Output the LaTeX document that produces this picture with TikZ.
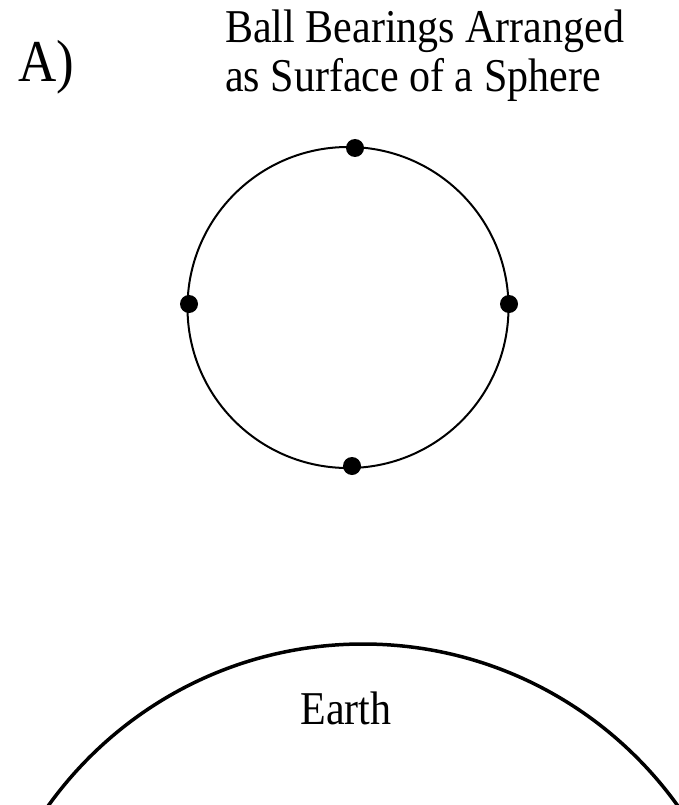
\documentclass[tikz,border=0pt]{standalone}
\usepackage{fontspec}
\setmainfont{Liberation Serif}
\newcommand{\tallline}[1]{\scalebox{1}[1.12]{#1}}
\begin{document}
\begin{tikzpicture}[x=1pt,y=-1pt,
    lbl/.style={font=\fontsize{42}{49}\selectfont,inner sep=0pt},
    ball/.style={circle,fill=black,inner sep=0pt,minimum size=18pt}
]
\useasboundingbox (0,0) rectangle (679,805);
\node[lbl,font=\fontsize{53}{56}\selectfont] (panel) at (46,67) {\tallline{A)}};
\node[lbl,align=left,anchor=west] (title) at (225,56) {\tallline{Ball Bearings Arranged}\\\tallline{as Surface of a Sphere}};

% sphere of ball bearings
\draw[line width=2pt] (348,307.5) circle[radius=160.5pt];
\node[ball] (btop) at (355,148) {};
\node[ball] (bleft) at (189,304) {};
\node[ball] (bright) at (509,304) {};
\node[ball] (bbottom) at (352,466) {};

% earth
\begin{scope}
\clip (0,0) rectangle (679,805);
\draw[line width=3.5pt] (363,1031) circle[radius=387pt];
\end{scope}
\node[lbl] (earth) at (346,708) {\tallline{Earth}};
\end{tikzpicture}
\end{document}
